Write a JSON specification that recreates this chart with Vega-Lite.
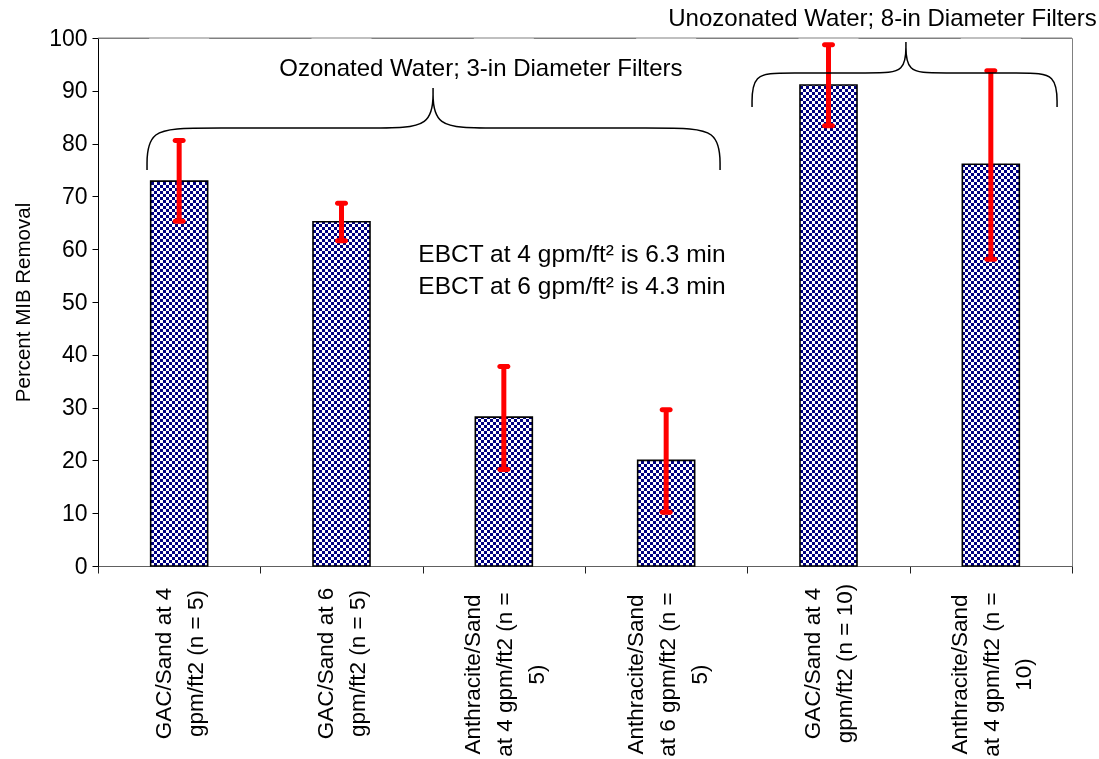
{
"$schema": "https://vega.github.io/schema/vega-lite/v6.json",
"autosize": {"type": "none"},
"padding": {"left": 98, "top": 38, "right": 27, "bottom": 193},
"width": 974,
"height": 528,
"background": "white",
"config": {"font": "Liberation Sans", "view": {"stroke": "#808080", "strokeWidth": 1}},
"datasets": {
"bars": [
{"filter": "GAC/Sand at 4|gpm/ft2 (n = 5)", "removal": 72.9, "low": 65.3, "high": 80.6},
{"filter": "GAC/Sand at 6|gpm/ft2 (n = 5)", "removal": 65.2, "low": 61.6, "high": 68.7},
{"filter": "Anthracite/Sand|at 4 gpm/ft2 (n =|5)", "removal": 28.2, "low": 18.3, "high": 37.8},
{"filter": "Anthracite/Sand|at 6 gpm/ft2 (n =|5)", "removal": 20.0, "low": 10.2, "high": 29.6},
{"filter": "GAC/Sand at 4|gpm/ft2 (n = 10)", "removal": 91.1, "low": 83.4, "high": 98.7},
{"filter": "Anthracite/Sand|at 4 gpm/ft2 (n =|10)", "removal": 76.1, "low": 58.1, "high": 93.8}
],
"braces": [
{"brace": "oz", "i": 0, "pos": 0.302, "val": 75.0},
{"brace": "oz", "i": 1, "pos": 0.302, "val": 82.95},
{"brace": "oz", "i": 2, "pos": 0.628, "val": 82.95},
{"brace": "oz", "i": 3, "pos": 1.737, "val": 82.95},
{"brace": "oz", "i": 4, "pos": 2.064, "val": 82.95},
{"brace": "oz", "i": 5, "pos": 2.064, "val": 90.53},
{"brace": "oz", "i": 6, "pos": 2.064, "val": 90.53},
{"brace": "oz", "i": 7, "pos": 2.064, "val": 90.53},
{"brace": "oz", "i": 8, "pos": 2.064, "val": 82.95},
{"brace": "oz", "i": 9, "pos": 2.390, "val": 82.95},
{"brace": "oz", "i": 10, "pos": 3.505, "val": 82.95},
{"brace": "oz", "i": 11, "pos": 3.832, "val": 82.95},
{"brace": "oz", "i": 12, "pos": 3.832, "val": 75.0},
{"brace": "un", "i": 0, "pos": 4.029, "val": 86.93},
{"brace": "un", "i": 1, "pos": 4.029, "val": 93.37},
{"brace": "un", "i": 2, "pos": 4.232, "val": 93.37},
{"brace": "un", "i": 3, "pos": 4.786, "val": 93.37},
{"brace": "un", "i": 4, "pos": 4.977, "val": 93.37},
{"brace": "un", "i": 5, "pos": 4.977, "val": 99.24},
{"brace": "un", "i": 6, "pos": 4.977, "val": 99.24},
{"brace": "un", "i": 7, "pos": 4.977, "val": 99.24},
{"brace": "un", "i": 8, "pos": 4.977, "val": 93.37},
{"brace": "un", "i": 9, "pos": 5.168, "val": 93.37},
{"brace": "un", "i": 10, "pos": 5.704, "val": 93.37},
{"brace": "un", "i": 11, "pos": 5.908, "val": 93.37},
{"brace": "un", "i": 12, "pos": 5.908, "val": 86.93}
],
"notes": [
{"text": "Ozonated Water; 3-in Diameter Filters", "pos": 2.359, "val": 94.1, "kind": "group"},
{"text": "Unozonated Water; 8-in Diameter Filters", "pos": 4.833, "val": 103.6, "kind": "group"},
{"text": "EBCT at 4 gpm/ft² is 6.3 min", "pos": 2.92, "val": 58.9, "kind": "ebct"},
{"text": "EBCT at 6 gpm/ft² is 4.3 min", "pos": 2.92, "val": 52.8, "kind": "ebct"}
]
},
"layer": [
{
"data": {"name": "bars"},
"encoding": {
"x": {"field": "filter", "type": "nominal", "sort": null, "title": null,
"scale": {"paddingInner": 0, "paddingOuter": 0},
"axis": {"tickBand": "extent", "labelAngle": 270, "labelAlign": "center", "labelBaseline": "middle",
"labelExpr": "split(datum.label, '|')", "labelFontSize": 22.5, "labelLineHeight": 32,
"labelPadding": {"condition": {"test": "indexof(datum.label, 'Anthracite') >= 0", "value": 101}, "value": 90},
"labelOffset": {"condition": {"test": "length(split(datum.label, '|')) > 2", "value": -31}, "value": -16},
"labelLimit": 500, "labelOverlap": false, "labelBound": false, "labelColor": "black",
"tickSize": 7, "tickColor": "#202020", "domainColor": "#606060", "title": null}}
},
"layer": [
{"mark": {"type": "bar", "width": 57, "fill": {"gradient": "linear", "x1": 0, "y1": 0, "x2": 1, "y2": 0, "stops": [
{"offset":0,"color":"#fff"},
{"offset":0.05263,"color":"#fff"},{"offset":0.05263,"color":"#000"},
{"offset":0.10526,"color":"#000"},{"offset":0.10526,"color":"#fff"},
{"offset":0.15789,"color":"#fff"},{"offset":0.15789,"color":"#000"},
{"offset":0.21053,"color":"#000"},{"offset":0.21053,"color":"#fff"},
{"offset":0.26316,"color":"#fff"},{"offset":0.26316,"color":"#000"},
{"offset":0.31579,"color":"#000"},{"offset":0.31579,"color":"#fff"},
{"offset":0.36842,"color":"#fff"},{"offset":0.36842,"color":"#000"},
{"offset":0.42105,"color":"#000"},{"offset":0.42105,"color":"#fff"},
{"offset":0.47368,"color":"#fff"},{"offset":0.47368,"color":"#000"},
{"offset":0.52632,"color":"#000"},{"offset":0.52632,"color":"#fff"},
{"offset":0.57895,"color":"#fff"},{"offset":0.57895,"color":"#000"},
{"offset":0.63158,"color":"#000"},{"offset":0.63158,"color":"#fff"},
{"offset":0.68421,"color":"#fff"},{"offset":0.68421,"color":"#000"},
{"offset":0.73684,"color":"#000"},{"offset":0.73684,"color":"#fff"},
{"offset":0.78947,"color":"#fff"},{"offset":0.78947,"color":"#000"},
{"offset":0.84211,"color":"#000"},{"offset":0.84211,"color":"#fff"},
{"offset":0.89474,"color":"#fff"},{"offset":0.89474,"color":"#000"},
{"offset":0.94737,"color":"#000"},{"offset":0.94737,"color":"#fff"},
{"offset":1,"color":"#fff"}]}},
"encoding": {"y": {"field": "removal", "type": "quantitative", "scale": {"domain": [0, 100], "nice": false}, "title": "Percent MIB Removal",
"axis": {"values": [0,10,20,30,40,50,60,70,80,90,100], "grid": false, "tickSize": 6, "tickColor": "black", "domainColor": "black",
"labelFontSize": 23, "labelColor": "black", "labelPadding": 5, "titleFontSize": 20.5, "titleFontWeight": "normal", "titleColor": "black", "titlePadding": 15}}}},
{"mark": {"type": "bar", "width": 57, "blend": "difference", "fill": {"gradient": "linear", "x1": 0, "y1": 0, "x2": 0, "y2": 1, "stops": [
{"offset":0,"color":"#fff"},
{"offset":0.00568,"color":"#fff"},{"offset":0.00568,"color":"#000"},
{"offset":0.01136,"color":"#000"},{"offset":0.01136,"color":"#fff"},
{"offset":0.01705,"color":"#fff"},{"offset":0.01705,"color":"#000"},
{"offset":0.02273,"color":"#000"},{"offset":0.02273,"color":"#fff"},
{"offset":0.02841,"color":"#fff"},{"offset":0.02841,"color":"#000"},
{"offset":0.03409,"color":"#000"},{"offset":0.03409,"color":"#fff"},
{"offset":0.03977,"color":"#fff"},{"offset":0.03977,"color":"#000"},
{"offset":0.04545,"color":"#000"},{"offset":0.04545,"color":"#fff"},
{"offset":0.05114,"color":"#fff"},{"offset":0.05114,"color":"#000"},
{"offset":0.05682,"color":"#000"},{"offset":0.05682,"color":"#fff"},
{"offset":0.0625,"color":"#fff"},{"offset":0.0625,"color":"#000"},
{"offset":0.06818,"color":"#000"},{"offset":0.06818,"color":"#fff"},
{"offset":0.07386,"color":"#fff"},{"offset":0.07386,"color":"#000"},
{"offset":0.07955,"color":"#000"},{"offset":0.07955,"color":"#fff"},
{"offset":0.08523,"color":"#fff"},{"offset":0.08523,"color":"#000"},
{"offset":0.09091,"color":"#000"},{"offset":0.09091,"color":"#fff"},
{"offset":0.09659,"color":"#fff"},{"offset":0.09659,"color":"#000"},
{"offset":0.10227,"color":"#000"},{"offset":0.10227,"color":"#fff"},
{"offset":0.10795,"color":"#fff"},{"offset":0.10795,"color":"#000"},
{"offset":0.11364,"color":"#000"},{"offset":0.11364,"color":"#fff"},
{"offset":0.11932,"color":"#fff"},{"offset":0.11932,"color":"#000"},
{"offset":0.125,"color":"#000"},{"offset":0.125,"color":"#fff"},
{"offset":0.13068,"color":"#fff"},{"offset":0.13068,"color":"#000"},
{"offset":0.13636,"color":"#000"},{"offset":0.13636,"color":"#fff"},
{"offset":0.14205,"color":"#fff"},{"offset":0.14205,"color":"#000"},
{"offset":0.14773,"color":"#000"},{"offset":0.14773,"color":"#fff"},
{"offset":0.15341,"color":"#fff"},{"offset":0.15341,"color":"#000"},
{"offset":0.15909,"color":"#000"},{"offset":0.15909,"color":"#fff"},
{"offset":0.16477,"color":"#fff"},{"offset":0.16477,"color":"#000"},
{"offset":0.17045,"color":"#000"},{"offset":0.17045,"color":"#fff"},
{"offset":0.17614,"color":"#fff"},{"offset":0.17614,"color":"#000"},
{"offset":0.18182,"color":"#000"},{"offset":0.18182,"color":"#fff"},
{"offset":0.1875,"color":"#fff"},{"offset":0.1875,"color":"#000"},
{"offset":0.19318,"color":"#000"},{"offset":0.19318,"color":"#fff"},
{"offset":0.19886,"color":"#fff"},{"offset":0.19886,"color":"#000"},
{"offset":0.20455,"color":"#000"},{"offset":0.20455,"color":"#fff"},
{"offset":0.21023,"color":"#fff"},{"offset":0.21023,"color":"#000"},
{"offset":0.21591,"color":"#000"},{"offset":0.21591,"color":"#fff"},
{"offset":0.22159,"color":"#fff"},{"offset":0.22159,"color":"#000"},
{"offset":0.22727,"color":"#000"},{"offset":0.22727,"color":"#fff"},
{"offset":0.23295,"color":"#fff"},{"offset":0.23295,"color":"#000"},
{"offset":0.23864,"color":"#000"},{"offset":0.23864,"color":"#fff"},
{"offset":0.24432,"color":"#fff"},{"offset":0.24432,"color":"#000"},
{"offset":0.25,"color":"#000"},{"offset":0.25,"color":"#fff"},
{"offset":0.25568,"color":"#fff"},{"offset":0.25568,"color":"#000"},
{"offset":0.26136,"color":"#000"},{"offset":0.26136,"color":"#fff"},
{"offset":0.26705,"color":"#fff"},{"offset":0.26705,"color":"#000"},
{"offset":0.27273,"color":"#000"},{"offset":0.27273,"color":"#fff"},
{"offset":0.27841,"color":"#fff"},{"offset":0.27841,"color":"#000"},
{"offset":0.28409,"color":"#000"},{"offset":0.28409,"color":"#fff"},
{"offset":0.28977,"color":"#fff"},{"offset":0.28977,"color":"#000"},
{"offset":0.29545,"color":"#000"},{"offset":0.29545,"color":"#fff"},
{"offset":0.30114,"color":"#fff"},{"offset":0.30114,"color":"#000"},
{"offset":0.30682,"color":"#000"},{"offset":0.30682,"color":"#fff"},
{"offset":0.3125,"color":"#fff"},{"offset":0.3125,"color":"#000"},
{"offset":0.31818,"color":"#000"},{"offset":0.31818,"color":"#fff"},
{"offset":0.32386,"color":"#fff"},{"offset":0.32386,"color":"#000"},
{"offset":0.32955,"color":"#000"},{"offset":0.32955,"color":"#fff"},
{"offset":0.33523,"color":"#fff"},{"offset":0.33523,"color":"#000"},
{"offset":0.34091,"color":"#000"},{"offset":0.34091,"color":"#fff"},
{"offset":0.34659,"color":"#fff"},{"offset":0.34659,"color":"#000"},
{"offset":0.35227,"color":"#000"},{"offset":0.35227,"color":"#fff"},
{"offset":0.35795,"color":"#fff"},{"offset":0.35795,"color":"#000"},
{"offset":0.36364,"color":"#000"},{"offset":0.36364,"color":"#fff"},
{"offset":0.36932,"color":"#fff"},{"offset":0.36932,"color":"#000"},
{"offset":0.375,"color":"#000"},{"offset":0.375,"color":"#fff"},
{"offset":0.38068,"color":"#fff"},{"offset":0.38068,"color":"#000"},
{"offset":0.38636,"color":"#000"},{"offset":0.38636,"color":"#fff"},
{"offset":0.39205,"color":"#fff"},{"offset":0.39205,"color":"#000"},
{"offset":0.39773,"color":"#000"},{"offset":0.39773,"color":"#fff"},
{"offset":0.40341,"color":"#fff"},{"offset":0.40341,"color":"#000"},
{"offset":0.40909,"color":"#000"},{"offset":0.40909,"color":"#fff"},
{"offset":0.41477,"color":"#fff"},{"offset":0.41477,"color":"#000"},
{"offset":0.42045,"color":"#000"},{"offset":0.42045,"color":"#fff"},
{"offset":0.42614,"color":"#fff"},{"offset":0.42614,"color":"#000"},
{"offset":0.43182,"color":"#000"},{"offset":0.43182,"color":"#fff"},
{"offset":0.4375,"color":"#fff"},{"offset":0.4375,"color":"#000"},
{"offset":0.44318,"color":"#000"},{"offset":0.44318,"color":"#fff"},
{"offset":0.44886,"color":"#fff"},{"offset":0.44886,"color":"#000"},
{"offset":0.45455,"color":"#000"},{"offset":0.45455,"color":"#fff"},
{"offset":0.46023,"color":"#fff"},{"offset":0.46023,"color":"#000"},
{"offset":0.46591,"color":"#000"},{"offset":0.46591,"color":"#fff"},
{"offset":0.47159,"color":"#fff"},{"offset":0.47159,"color":"#000"},
{"offset":0.47727,"color":"#000"},{"offset":0.47727,"color":"#fff"},
{"offset":0.48295,"color":"#fff"},{"offset":0.48295,"color":"#000"},
{"offset":0.48864,"color":"#000"},{"offset":0.48864,"color":"#fff"},
{"offset":0.49432,"color":"#fff"},{"offset":0.49432,"color":"#000"},
{"offset":0.5,"color":"#000"},{"offset":0.5,"color":"#fff"},
{"offset":0.50568,"color":"#fff"},{"offset":0.50568,"color":"#000"},
{"offset":0.51136,"color":"#000"},{"offset":0.51136,"color":"#fff"},
{"offset":0.51705,"color":"#fff"},{"offset":0.51705,"color":"#000"},
{"offset":0.52273,"color":"#000"},{"offset":0.52273,"color":"#fff"},
{"offset":0.52841,"color":"#fff"},{"offset":0.52841,"color":"#000"},
{"offset":0.53409,"color":"#000"},{"offset":0.53409,"color":"#fff"},
{"offset":0.53977,"color":"#fff"},{"offset":0.53977,"color":"#000"},
{"offset":0.54545,"color":"#000"},{"offset":0.54545,"color":"#fff"},
{"offset":0.55114,"color":"#fff"},{"offset":0.55114,"color":"#000"},
{"offset":0.55682,"color":"#000"},{"offset":0.55682,"color":"#fff"},
{"offset":0.5625,"color":"#fff"},{"offset":0.5625,"color":"#000"},
{"offset":0.56818,"color":"#000"},{"offset":0.56818,"color":"#fff"},
{"offset":0.57386,"color":"#fff"},{"offset":0.57386,"color":"#000"},
{"offset":0.57955,"color":"#000"},{"offset":0.57955,"color":"#fff"},
{"offset":0.58523,"color":"#fff"},{"offset":0.58523,"color":"#000"},
{"offset":0.59091,"color":"#000"},{"offset":0.59091,"color":"#fff"},
{"offset":0.59659,"color":"#fff"},{"offset":0.59659,"color":"#000"},
{"offset":0.60227,"color":"#000"},{"offset":0.60227,"color":"#fff"},
{"offset":0.60795,"color":"#fff"},{"offset":0.60795,"color":"#000"},
{"offset":0.61364,"color":"#000"},{"offset":0.61364,"color":"#fff"},
{"offset":0.61932,"color":"#fff"},{"offset":0.61932,"color":"#000"},
{"offset":0.625,"color":"#000"},{"offset":0.625,"color":"#fff"},
{"offset":0.63068,"color":"#fff"},{"offset":0.63068,"color":"#000"},
{"offset":0.63636,"color":"#000"},{"offset":0.63636,"color":"#fff"},
{"offset":0.64205,"color":"#fff"},{"offset":0.64205,"color":"#000"},
{"offset":0.64773,"color":"#000"},{"offset":0.64773,"color":"#fff"},
{"offset":0.65341,"color":"#fff"},{"offset":0.65341,"color":"#000"},
{"offset":0.65909,"color":"#000"},{"offset":0.65909,"color":"#fff"},
{"offset":0.66477,"color":"#fff"},{"offset":0.66477,"color":"#000"},
{"offset":0.67045,"color":"#000"},{"offset":0.67045,"color":"#fff"},
{"offset":0.67614,"color":"#fff"},{"offset":0.67614,"color":"#000"},
{"offset":0.68182,"color":"#000"},{"offset":0.68182,"color":"#fff"},
{"offset":0.6875,"color":"#fff"},{"offset":0.6875,"color":"#000"},
{"offset":0.69318,"color":"#000"},{"offset":0.69318,"color":"#fff"},
{"offset":0.69886,"color":"#fff"},{"offset":0.69886,"color":"#000"},
{"offset":0.70455,"color":"#000"},{"offset":0.70455,"color":"#fff"},
{"offset":0.71023,"color":"#fff"},{"offset":0.71023,"color":"#000"},
{"offset":0.71591,"color":"#000"},{"offset":0.71591,"color":"#fff"},
{"offset":0.72159,"color":"#fff"},{"offset":0.72159,"color":"#000"},
{"offset":0.72727,"color":"#000"},{"offset":0.72727,"color":"#fff"},
{"offset":0.73295,"color":"#fff"},{"offset":0.73295,"color":"#000"},
{"offset":0.73864,"color":"#000"},{"offset":0.73864,"color":"#fff"},
{"offset":0.74432,"color":"#fff"},{"offset":0.74432,"color":"#000"},
{"offset":0.75,"color":"#000"},{"offset":0.75,"color":"#fff"},
{"offset":0.75568,"color":"#fff"},{"offset":0.75568,"color":"#000"},
{"offset":0.76136,"color":"#000"},{"offset":0.76136,"color":"#fff"},
{"offset":0.76705,"color":"#fff"},{"offset":0.76705,"color":"#000"},
{"offset":0.77273,"color":"#000"},{"offset":0.77273,"color":"#fff"},
{"offset":0.77841,"color":"#fff"},{"offset":0.77841,"color":"#000"},
{"offset":0.78409,"color":"#000"},{"offset":0.78409,"color":"#fff"},
{"offset":0.78977,"color":"#fff"},{"offset":0.78977,"color":"#000"},
{"offset":0.79545,"color":"#000"},{"offset":0.79545,"color":"#fff"},
{"offset":0.80114,"color":"#fff"},{"offset":0.80114,"color":"#000"},
{"offset":0.80682,"color":"#000"},{"offset":0.80682,"color":"#fff"},
{"offset":0.8125,"color":"#fff"},{"offset":0.8125,"color":"#000"},
{"offset":0.81818,"color":"#000"},{"offset":0.81818,"color":"#fff"},
{"offset":0.82386,"color":"#fff"},{"offset":0.82386,"color":"#000"},
{"offset":0.82955,"color":"#000"},{"offset":0.82955,"color":"#fff"},
{"offset":0.83523,"color":"#fff"},{"offset":0.83523,"color":"#000"},
{"offset":0.84091,"color":"#000"},{"offset":0.84091,"color":"#fff"},
{"offset":0.84659,"color":"#fff"},{"offset":0.84659,"color":"#000"},
{"offset":0.85227,"color":"#000"},{"offset":0.85227,"color":"#fff"},
{"offset":0.85795,"color":"#fff"},{"offset":0.85795,"color":"#000"},
{"offset":0.86364,"color":"#000"},{"offset":0.86364,"color":"#fff"},
{"offset":0.86932,"color":"#fff"},{"offset":0.86932,"color":"#000"},
{"offset":0.875,"color":"#000"},{"offset":0.875,"color":"#fff"},
{"offset":0.88068,"color":"#fff"},{"offset":0.88068,"color":"#000"},
{"offset":0.88636,"color":"#000"},{"offset":0.88636,"color":"#fff"},
{"offset":0.89205,"color":"#fff"},{"offset":0.89205,"color":"#000"},
{"offset":0.89773,"color":"#000"},{"offset":0.89773,"color":"#fff"},
{"offset":0.90341,"color":"#fff"},{"offset":0.90341,"color":"#000"},
{"offset":0.90909,"color":"#000"},{"offset":0.90909,"color":"#fff"},
{"offset":0.91477,"color":"#fff"},{"offset":0.91477,"color":"#000"},
{"offset":0.92045,"color":"#000"},{"offset":0.92045,"color":"#fff"},
{"offset":0.92614,"color":"#fff"},{"offset":0.92614,"color":"#000"},
{"offset":0.93182,"color":"#000"},{"offset":0.93182,"color":"#fff"},
{"offset":0.9375,"color":"#fff"},{"offset":0.9375,"color":"#000"},
{"offset":0.94318,"color":"#000"},{"offset":0.94318,"color":"#fff"},
{"offset":0.94886,"color":"#fff"},{"offset":0.94886,"color":"#000"},
{"offset":0.95455,"color":"#000"},{"offset":0.95455,"color":"#fff"},
{"offset":0.96023,"color":"#fff"},{"offset":0.96023,"color":"#000"},
{"offset":0.96591,"color":"#000"},{"offset":0.96591,"color":"#fff"},
{"offset":0.97159,"color":"#fff"},{"offset":0.97159,"color":"#000"},
{"offset":0.97727,"color":"#000"},{"offset":0.97727,"color":"#fff"},
{"offset":0.98295,"color":"#fff"},{"offset":0.98295,"color":"#000"},
{"offset":0.98864,"color":"#000"},{"offset":0.98864,"color":"#fff"},
{"offset":0.99432,"color":"#fff"},{"offset":0.99432,"color":"#000"},
{"offset":1,"color":"#000"}]}},
"encoding": {"y": {"datum": 0, "type": "quantitative", "scale": {"domain": [0, 100], "nice": false}, "title": "Percent MIB Removal"}, "y2": {"datum": 100}}},
{"mark": {"type": "bar", "width": 57, "fill": "#000080", "blend": "screen"},
"encoding": {"y": {"field": "removal", "type": "quantitative", "scale": {"domain": [0, 100], "nice": false}, "title": "Percent MIB Removal"}}},
{"mark": {"type": "bar", "width": 60, "fill": "white"},
"encoding": {"y": {"field": "removal", "type": "quantitative", "scale": {"domain": [0, 100], "nice": false}, "title": "Percent MIB Removal"}, "y2": {"datum": 100}}},
{"mark": {"type": "bar", "width": 57, "filled": false, "stroke": "black", "strokeWidth": 1.6},
"encoding": {"y": {"field": "removal", "type": "quantitative", "scale": {"domain": [0, 100], "nice": false}, "title": "Percent MIB Removal"}}},
{"mark": {"type": "rule", "color": "#ff0000", "strokeWidth": 5},
"encoding": {"y": {"field": "low", "type": "quantitative", "scale": {"domain": [0, 100], "nice": false}, "title": "Percent MIB Removal"}, "y2": {"field": "high"}}},
{"mark": {"type": "tick", "color": "#ff0000", "thickness": 5, "size": 13, "cornerRadius": 2.5, "opacity": 1},
"encoding": {"y": {"field": "low", "type": "quantitative", "scale": {"domain": [0, 100], "nice": false}, "title": "Percent MIB Removal"}}},
{"mark": {"type": "tick", "color": "#ff0000", "thickness": 5, "size": 13, "cornerRadius": 2.5, "opacity": 1},
"encoding": {"y": {"field": "high", "type": "quantitative", "scale": {"domain": [0, 100], "nice": false}, "title": "Percent MIB Removal"}}}
]
},
{
"layer": [
{"data": {"name": "braces"},
"mark": {"type": "line", "interpolate": "basis", "color": "black", "strokeWidth": 1.5},
"encoding": {
"x": {"field": "pos", "type": "quantitative", "scale": {"domain": [0, 6], "nice": false, "zero": false}, "axis": null},
"y": {"field": "val", "type": "quantitative", "scale": {"domain": [0, 100], "nice": false}, "title": "Percent MIB Removal"},
"detail": {"field": "brace"},
"order": {"field": "i"}}},
{"data": {"name": "notes"},
"mark": {"type": "text", "color": "black", "align": "center", "baseline": "middle"},
"encoding": {
"x": {"field": "pos", "type": "quantitative", "scale": {"domain": [0, 6], "nice": false, "zero": false}, "axis": null},
"y": {"field": "val", "type": "quantitative", "scale": {"domain": [0, 100], "nice": false}, "title": "Percent MIB Removal"},
"size": {"condition": {"test": "datum.kind === 'ebct'", "value": 24.5}, "value": 24},
"text": {"field": "text"}}},
{"data": {"values": [{}]},
"mark": {"type": "rule", "color": "#808080", "strokeWidth": 1},
"encoding": {"y": {"datum": 100, "type": "quantitative", "scale": {"domain": [0, 100], "nice": false}, "title": "Percent MIB Removal"}}}
]
}
],
"resolve": {"scale": {"x": "independent"}}
}
